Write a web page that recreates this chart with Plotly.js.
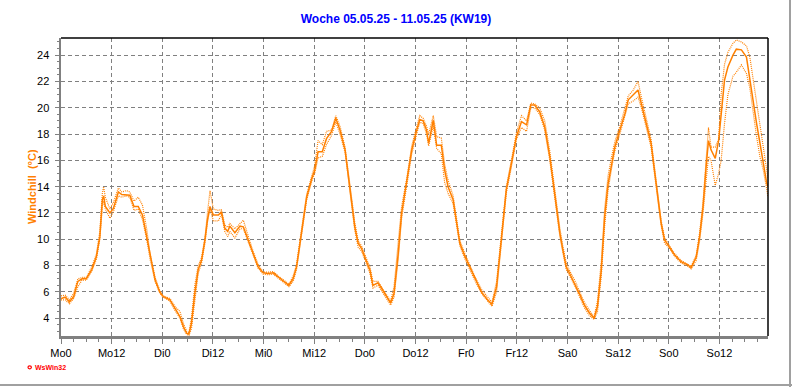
<!DOCTYPE html>
<html>
<head>
<meta charset="utf-8">
<script src="https://cdn.plot.ly/plotly-3.0.1.min.js"></script>
<style>
  html, body { margin: 0; padding: 0; background: #fff; }
  #wrap { position: relative; width: 792px; height: 387px; overflow: hidden; }
  #chart { width: 792px; height: 387px; }
  #frameR { position: absolute; left: 789px; top: 0; width: 2px; height: 387px; background: #a0a0a0; }
  #frameB { position: absolute; left: 0; top: 384px; width: 792px; height: 2px; background: #a0a0a0; }
</style>
</head>
<body>
<div id="wrap">
  <div id="chart"></div>
  <div id="frameR"></div>
  <div id="frameB"></div>
</div>
<script>
// Hours since Monday 00:00
const hours = [
  0, 1, 2, 3, 4, 5, 6, 7.3, 8.4, 9.2, 9.8, 10.1, 10.5, 11.6, 12.4, 13.6, 14.4, 15.5, 16.3, 17.3,
  18.3, 19.3, 20.3, 21.1, 22.3, 23.4, 24.2, 25.8, 27, 28.2, 29, 29.8, 30.3, 30.9, 31.7, 32.5, 33.3, 34.1, 34.7, 35.3,
  36.1, 37.3, 38.0, 38.8, 39.5, 40.0, 41.2, 42.4, 43.2, 44.4, 45.5, 46.7, 47.9, 49.1, 50.3, 51.5, 52.6, 54.0, 55.0, 55.8,
  56.6, 57.4, 58.2, 59.4, 60.1, 60.9, 61.9, 62.9, 64.1, 65.1, 66.1, 67.3, 68.0, 68.8, 69.6, 70.4, 71.2, 72.4, 73.2, 73.9,
  75.1, 75.9, 77.1, 78.1, 78.9, 79.9, 80.7, 81.9, 83.1, 84.2, 85.0, 85.8, 86.6, 87.1, 87.8, 88.2, 89.0, 90.1, 90.9, 91.7,
  92.9, 93.7, 94.5, 95.7, 96.8, 98.0, 99.6, 100.8, 102.1, 103.2, 104.0, 104.7, 105.5, 106.7, 107.9, 109.1, 110.3, 111.3, 112.2, 113.4,
  114.6, 115.8, 116.6, 117.4, 118.2, 118.9, 119.7, 120.5, 121.7, 122.9, 124.0, 125.2, 126.3, 127.1, 128.0, 128.8, 129.6, 130.4, 131.2, 132.4,
  133.6, 134.4, 135.5, 136.7, 137.5, 138.6, 139.8, 140.6, 141.4, 142.2, 143.0, 144.2, 145.4, 146.9, 148.5, 149.3, 150.5, 151.3, 152.1, 152.9,
  153.4, 154.0, 155.0, 155.8, 156.4, 157.2, 158.0, 159.2, 160.0, 161.2, 162.4, 163.2, 164.0, 164.8, 165.6, 166.4, 167.2, 167.5
];

// Windchill (°C), main series
const windchill = [
  5.5, 5.6, 5.25, 5.65, 6.8, 7.0, 7.0, 7.7, 8.7, 10.2, 13.0, 13.3, 12.5, 12.0, 12.35, 13.6, 13.4, 13.4, 13.35, 12.5,
  12.5, 11.85, 10.2, 8.7, 6.9, 6.0, 5.65, 5.4, 4.75, 4.1, 3.35, 2.85, 2.8, 3.6, 5.9, 7.7, 8.4, 9.95, 11.5, 12.5,
  11.85, 11.85, 12.1, 10.85, 10.6, 11.0, 10.5, 11.0, 10.95, 9.95, 8.95, 7.9, 7.45, 7.4, 7.45, 7.1, 6.85, 6.5, 7.0, 7.9,
  9.7, 11.45, 13.2, 14.6, 15.25, 16.65, 16.65, 17.65, 18.2, 19.2, 18.3, 16.8, 15.0, 13.0, 10.95, 9.7, 9.3, 8.3, 7.65, 6.5,
  6.7, 6.3, 5.65, 5.15, 5.9, 8.95, 12.0, 14.25, 16.8, 18.2, 19.1, 19.0, 18.3, 17.3, 18.55, 19.05, 17.15, 17.15, 15.25, 14.0,
  13.0, 11.45, 9.7, 8.7, 7.9, 7.05, 6.0, 5.5, 5.05, 6.4, 8.95, 11.7, 13.75, 15.75, 17.8, 18.95, 18.7, 20.2, 20.2, 19.7,
  18.55, 16.3, 14.25, 12.5, 10.45, 9.2, 7.9, 7.4, 6.65, 5.8, 5.0, 4.4, 4.0, 4.9, 7.65, 11.7, 14.2, 15.75, 17.0, 18.3,
  19.55, 20.6, 20.95, 21.35, 20.3, 18.8, 17.3, 15.25, 13.2, 11.2, 9.95, 9.4, 8.8, 8.3, 8.05, 7.85, 8.65, 10.2, 12.45, 15.75,
  17.5, 16.8, 16.15, 17.5, 19.55, 22.1, 23.1, 24.0, 24.45, 24.4, 23.85, 22.1, 20.3, 18.8, 17.3, 15.75, 14.25, 14.0
];

// Upper dotted series
const windchillMax = [
  5.7, 5.75, 5.4, 5.9, 7.0, 7.1, 7.1, 7.9, 8.9, 10.6, 13.5, 14.0, 13.2, 12.3, 12.8, 13.9, 13.6, 13.7, 13.6, 12.9,
  13.2, 12.6, 10.8, 8.9, 7.1, 6.1, 5.7, 5.5, 4.9, 4.5, 3.6, 3.0, 2.9, 4.0, 6.5, 8.0, 8.6, 10.1, 12.0, 13.7,
  12.3, 12.2, 12.25, 11.1, 10.9, 11.2, 10.8, 11.2, 11.45, 10.2, 9.1, 8.1, 7.5, 7.5, 7.55, 7.2, 6.95, 6.6, 7.2, 8.1,
  9.9, 11.6, 13.4, 14.8, 15.6, 17.5, 17.2, 18.2, 18.3, 19.4, 18.6, 17.0, 15.3, 13.3, 11.3, 9.9, 9.5, 8.5, 7.9, 6.8,
  6.8, 6.4, 5.8, 5.3, 6.4, 9.5, 12.5, 14.6, 17.1, 18.5, 19.4, 19.2, 18.6, 18.0, 18.9, 19.4, 17.8, 17.7, 15.7, 14.5,
  13.3, 11.7, 9.9, 8.9, 8.1, 7.2, 6.2, 5.7, 5.2, 6.8, 9.3, 12.0, 14.0, 16.0, 18.1, 19.4, 19.0, 20.35, 20.3, 20.0,
  19.0, 16.7, 14.6, 12.8, 10.8, 9.5, 8.2, 7.6, 6.9, 6.0, 5.2, 4.6, 4.1, 5.3, 8.3, 12.3, 14.8, 16.2, 17.4, 18.6,
  19.9, 20.9, 21.3, 22.0, 20.8, 19.2, 17.6, 15.5, 13.4, 11.4, 10.1, 9.5, 8.9, 8.4, 8.1, 7.95, 8.8, 10.5, 12.8, 16.3,
  18.5, 17.0, 17.0, 17.6, 21.0, 23.3, 24.2, 24.9, 25.15, 25.0, 24.7, 23.85, 22.1, 20.3, 18.5, 17.0, 15.0, 14.6
];

// Lower dotted series
const windchillMin = [
  5.4, 5.4, 5.1, 5.5, 6.4, 6.9, 6.9, 7.6, 8.5, 10.0, 12.5, 12.9, 12.3, 11.6, 12.1, 13.3, 13.2, 13.3, 13.2, 12.2,
  12.3, 11.5, 10.0, 8.5, 6.8, 5.9, 5.6, 5.3, 4.6, 4.0, 3.2, 2.75, 2.7, 3.2, 5.3, 7.4, 8.2, 9.7, 11.3, 12.3,
  11.4, 11.4, 11.9, 10.6, 10.2, 10.6, 10.1, 10.8, 10.8, 9.8, 8.8, 7.8, 7.35, 7.3, 7.35, 7.0, 6.75, 6.4, 6.8, 7.7,
  9.5, 11.3, 13.0, 14.4, 15.0, 16.2, 16.3, 17.2, 17.9, 18.9, 18.0, 16.6, 14.8, 12.8, 10.7, 9.4, 9.1, 8.1, 7.4, 6.3,
  6.5, 6.1, 5.5, 5.0, 5.6, 8.5, 11.6, 14.0, 16.5, 17.9, 18.9, 18.8, 18.0, 17.1, 18.2, 18.6, 16.9, 16.5, 14.3, 13.5,
  12.7, 11.2, 9.5, 8.5, 7.7, 6.9, 5.9, 5.4, 4.9, 6.0, 8.6, 11.3, 13.5, 15.5, 17.6, 18.5, 18.2, 20.0, 20.0, 19.5,
  18.3, 16.0, 14.0, 12.2, 10.2, 9.0, 7.7, 7.2, 6.5, 5.6, 4.8, 4.2, 3.9, 4.5, 7.2, 11.0, 13.7, 15.3, 16.7, 18.0,
  19.3, 20.3, 20.5, 20.8, 20.0, 18.5, 17.0, 15.0, 13.0, 11.0, 9.7, 9.3, 8.7, 8.2, 7.95, 7.75, 8.4, 9.9, 12.0, 15.0,
  16.3, 16.0, 14.1, 15.0, 16.0, 18.8, 21.0, 22.4, 22.7, 23.25, 22.6, 21.5, 19.55, 17.8, 16.25, 15.25, 13.8, 13.2
];

const tickLabels = ['Mo0','Mo12','Di0','Di12','Mi0','Mi12','Do0','Do12','Fr0','Fr12','Sa0','Sa12','So0','So12'];
const tickHours = tickLabels.map((_, i) => i * 12);

const orange = '#FF8000';
const grey = '#808080';

const traces = [
  { x: hours, y: windchillMax, type: 'scatter', mode: 'lines',
    line: { color: orange, width: 1.2, dash: '1px,1px' }, hoverinfo: 'skip' },
  { x: hours, y: windchillMin, type: 'scatter', mode: 'lines',
    line: { color: orange, width: 1.2, dash: '1px,1px' }, hoverinfo: 'skip' },
  { x: hours, y: windchill, type: 'scatter', mode: 'lines',
    line: { color: orange, width: 1.5 } }
];

const layout = {
  width: 792, height: 387,
  margin: { l: 61, r: 24, t: 38, b: 51, pad: 0 },
  paper_bgcolor: '#ffffff', plot_bgcolor: '#ffffff',
  showlegend: false,
  font: { family: 'Liberation Sans, Arial, sans-serif', size: 11, color: '#000' },
  title: {
    text: '<b>Woche 05.05.25 - 11.05.25 (KW19)</b>',
    font: { family: 'Liberation Sans, Arial, sans-serif', size: 12, color: '#0000FF' },
    x: 0.5, xref: 'container', xanchor: 'center', y: 23, yref: 'container', yanchor: 'middle'
  },
  xaxis: {
    range: [0, 167.5], tickmode: 'array', tickvals: tickHours, ticktext: tickLabels,
    showline: true, linecolor: grey, linewidth: 2.5,
    ticks: 'outside', ticklen: 5, tickwidth: 1, tickcolor: grey,
    showgrid: true, gridcolor: grey, gridwidth: 1, griddash: '4px,3px',
    zeroline: false, ticklabelstandoff: 0,
    minor: { tickmode: 'linear', tick0: 0, dtick: 3, ticks: 'outside', ticklen: 3, tickcolor: grey, showgrid: false }
  },
  yaxis: {
    range: [2.65, 25.3], tickmode: 'linear', tick0: 0, dtick: 2,
    showline: true, linecolor: grey, linewidth: 2.5,
    ticks: 'outside', ticklen: 4, tickwidth: 1, tickcolor: grey,
    showgrid: true, gridcolor: grey, gridwidth: 1, griddash: '4px,3px',
    zeroline: false, ticklabelstandoff: 3,
    minor: { tickmode: 'linear', tick0: 0, dtick: 0.5, ticks: 'outside', ticklen: 2, tickcolor: grey, showgrid: false }
  },
  shapes: [
    { type: 'line', xref: 'paper', yref: 'paper', x0: 0, x1: 1, y0: 1, y1: 1, line: { color: '#000', width: 1.5 } },
    { type: 'line', xref: 'paper', yref: 'paper', x0: 1, x1: 1, y0: 0, y1: 1, line: { color: '#000', width: 1.5 } },
    { type: 'circle', xref: 'paper', yref: 'paper', x0: -0.0467, x1: -0.0419, y0: -0.100, y1: -0.110,
      line: { color: '#FF0000', width: 1.2 } }
  ],
  annotations: [
    { text: '<b>Windchill  (°C)</b>', xref: 'paper', yref: 'paper', x: -0.041, y: 0.5,
      xanchor: 'center', yanchor: 'middle', textangle: -90, showarrow: false,
      font: { family: 'Liberation Sans, Arial, sans-serif', size: 11, color: orange } },
    { text: '<b>WsWin32</b>', xref: 'paper', yref: 'paper', x: -0.04, y: -0.105,
      xanchor: 'left', yanchor: 'middle', showarrow: false,
      font: { family: 'Liberation Sans, Arial, sans-serif', size: 7, color: '#FF0000' } }
  ]
};

Plotly.newPlot('chart', traces, layout, { displayModeBar: false, staticPlot: true });
</script>
</body>
</html>
